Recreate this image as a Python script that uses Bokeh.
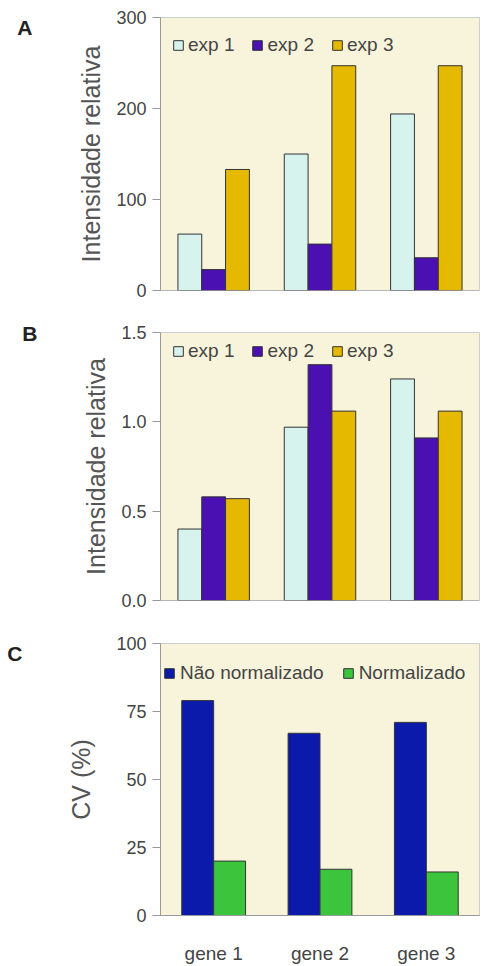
from bokeh.plotting import figure
from bokeh.layouts import column
from bokeh.models import (ColumnDataSource, FactorRange, CustomJSTickFormatter, LinearAxis,
                          FixedTicker, Span)
from bokeh.transform import dodge
from bokeh.embed import file_html
from bokeh.resources import INLINE

genes = ["gene 1", "gene 2", "gene 3"]
exp_labels = ["exp 1", "exp 2", "exp 3"]
a_exp1 = [62, 150, 194]
a_exp2 = [23, 51, 36]
a_exp3 = [133, 247, 247]
b_exp1 = [0.40, 0.97, 1.24]
b_exp2 = [0.58, 1.32, 0.91]
b_exp3 = [0.57, 1.06, 1.06]
c_labels = ["Não normalizado", "Normalizado"]
c_nao = [79, 67, 71]
c_norm = [20, 17, 16]

FONT = "Liberation Sans"
BG = "#f8f4dc"
exp_colors = ["#d6f3ee", "#4a10b2", "#e4b900"]
c_colors = ["#0c1aab", "#3cc43c"]


def style(p, ylabel, show_x, leg_x, leg_y):
    p.background_fill_color = BG
    p.border_fill_color = "white"
    p.outline_line_color = "#cfcfcf"
    p.xgrid.grid_line_color = None
    p.ygrid.grid_line_color = None
    ya = p.yaxis[0]
    ya.axis_label = ylabel
    ya.axis_label_text_font = FONT
    ya.axis_label_text_font_style = "normal"
    ya.axis_label_text_font_size = "25px"
    ya.axis_label_text_color = "#555555"
    ya.axis_label_standoff = 8
    ya.major_label_text_font = FONT
    ya.major_label_text_font_size = "18px"
    ya.major_label_text_color = "#444444"
    ya.axis_line_color = "#999999"
    ya.major_tick_line_color = "#999999"
    ya.major_tick_out = 8
    ya.major_tick_in = 0
    ya.minor_tick_line_color = None
    ya.major_label_standoff = 6
    xa = p.xaxis[0]
    xa.axis_line_color = "#999999"
    xa.major_tick_line_color = None
    xa.major_label_text_font = FONT
    xa.major_label_text_font_size = "19px"
    xa.major_label_text_color = "#444444"
    xa.major_label_standoff = 21
    if not show_x:
        xa.visible = False
        p.add_layout(Span(location=0, dimension="width", line_color="#999999", line_width=1))
    p.legend.orientation = "horizontal"
    p.legend.location = (leg_x, leg_y)
    p.legend.background_fill_alpha = 0
    p.legend.border_line_alpha = 0
    p.legend.label_text_font = FONT
    p.legend.label_text_font_size = "19px"
    p.legend.label_text_color = "#444444"
    p.legend.glyph_width = 12
    p.legend.glyph_height = 12
    p.legend.label_standoff = 4
    p.legend.spacing = 17
    p.legend.padding = 0
    p.legend.margin = 0


def make_panel(letter, letter_at, height, top, bottom, y_end, ylabel, series, labels, colors,
               width_frac, ticks, show_x, leg_x, leg_below_top):
    frame_h = height - top - bottom
    p = figure(x_range=FactorRange(factors=genes, range_padding=0), y_range=(0, y_end),
               width=481, height=height, output_backend="svg", toolbar_location=None,
               min_border_left=160, min_border_right=2, min_border_top=top,
               min_border_bottom=bottom)
    src = ColumnDataSource(dict(genes=genes, **{f"s{i}": s for i, s in enumerate(series)}))
    n = len(series)
    for i in range(n):
        off = (i - (n - 1) / 2) * width_frac
        p.vbar(x=dodge("genes", off, range=p.x_range), top=f"s{i}", width=width_frac,
               source=src, fill_color=colors[i], line_color="#333333", line_width=1,
               legend_label=labels[i])
    p.yaxis.ticker = ticks
    style(p, ylabel, show_x, leg_x, frame_h - leg_below_top)
    # panel letter as a bare extra axis, placed outside the primary y axis
    letter_axis = LinearAxis(ticker=FixedTicker(ticks=[letter_at]),
                             major_label_overrides={letter_at: letter},
                             axis_line_color=None, major_tick_line_color=None,
                             minor_tick_line_color=None, major_tick_out=0, major_tick_in=0,
                             major_label_standoff=42,
                             major_label_text_font=FONT, major_label_text_font_style="bold",
                             major_label_text_font_size="21px",
                             major_label_text_color="#222222")
    p.add_layout(letter_axis, "left")
    return p


pa = make_panel("A", 289, 310, 17, 20, 300, "Intensidade relativa",
                [a_exp1, a_exp2, a_exp3], exp_labels, exp_colors, 0.224,
                [0, 100, 200, 300], False, 12, 39)
pb = make_panel("B", 1.494, 310, 22, 20, 1.5, "Intensidade relativa",
                [b_exp1, b_exp2, b_exp3], exp_labels, exp_colors, 0.224,
                [0, 0.5, 1.0, 1.5], False, 12, 30)
pb.yaxis[0].formatter = CustomJSTickFormatter(code="return tick.toFixed(1);")
pc = make_panel("C", 96.4, 346, 23, 44, 100, "CV (%)",
                [c_nao, c_norm], c_labels, c_colors, 0.30,
                [0, 25, 50, 75, 100], True, 3, 48)
pc.yaxis[0].axis_label_standoff = 18
pc.legend.spacing = 18
pc.legend.label_standoff = 5

layout = column(pa, pb, pc, spacing=0)
open("out.html", "w").write(file_html(layout, INLINE))
